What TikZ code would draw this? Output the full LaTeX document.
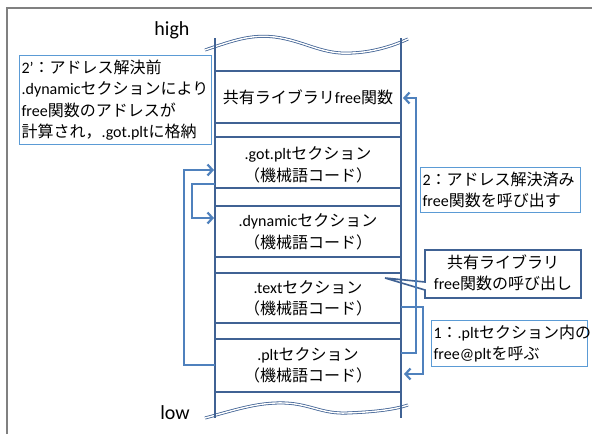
\documentclass[tikz,border=0pt]{standalone}
\usepackage{fontspec}
\setmainfont{Carlito}
\newfontfamily\jp{Noto Sans CJK JP}
\usetikzlibrary{arrows.meta}
\newcommand\J[1]{{\jp #1}}
\definecolor{colline}{RGB}{64,98,148}
\definecolor{colarrow}{RGB}{79,129,189}
\definecolor{colbox}{RGB}{91,155,213}
\definecolor{colframe}{RGB}{128,128,128}
\begin{document}
\begin{tikzpicture}[x=1pt,y=-1pt,
  txt/.style={font=\fontsize{16}{21.5}\selectfont, inner sep=0pt},
  sec/.style={txt, align=center},
  membar/.style={draw=colline, line width=2.2pt},
  wave/.style={draw=colline, line width=0.8pt, double=white, double distance=1.4pt},
  flow/.style={draw=colarrow, line width=2.2pt, -{Straight Barb[length=5pt,width=11pt]}},
  note/.style={txt, draw=colbox, line width=1.2pt, fill=white, align=left, inner sep=2pt, anchor=north west},
  endlabel/.style={font=\fontsize{20}{24}\selectfont, inner sep=0pt}
]
\useasboundingbox (0,0) rectangle (592,434);
\fill[white] (0,0) rectangle (592,434);
% frame
\draw[colframe, line width=1.5pt] (7,434) -- (7,8) -- (592,8);

% labels
\node[endlabel] (high) at (172,30) {high};
\node[endlabel] (low) at (175,413) {low};

% callout (behind column)
\coordinate (tip) at (385,278);
\draw[draw=colline, line width=1.6pt, fill=white, line join=miter]
  (425,250) -- (581,250) -- (581,298) -- (425,298) -- (425,290) -- (tip) -- (425,282) -- cycle;
\node[txt, align=center] (call) at (503,273) {\J{共有ライブラリ}\\free\J{関数の呼び出し}};

% waves
\draw[wave] (205,50) .. controls (232,41) and (250,34) .. (275,37)
  .. controls (305,41) and (322,55) .. (352,53)
  .. controls (375,52) and (395,45) .. (408,39);
\draw[wave] (205,418) .. controls (235,410) and (258,402) .. (285,403)
  .. controls (310,404) and (322,414) .. (347,413)
  .. controls (372,412) and (393,410) .. (408,405);

% memory column
\draw[membar] (215,38) -- (215,418);
\draw[membar] (401,38) -- (401,418);
\foreach \y in {71,123,137,188,206,257,273,323,339,392}
  \draw[membar] (215,\y) -- (401,\y);

% sections
\node[sec] (lib) at (308,97) {\J{共有ライブラリ}free\J{関数}};
\node[sec] (got) at (308,165) {.got.plt\J{セクション}\\\J{（機械語コード）}};
\node[sec] (dyn) at (308,232) {.dynamic\J{セクション}\\\J{（機械語コード）}};
\node[sec] (text) at (308,298.5) {.text\J{セクション}\\\J{（機械語コード）}};
\node[sec] (plt) at (308,365.5) {.plt\J{セクション}\\\J{（機械語コード）}};

% notes
\node[note, text width=188pt, minimum height=89pt] (n2p) at (19,55)
  {2’\J{：アドレス解決前}\\.dynamic\J{セクションにより}\\free\J{関数のアドレスが}\\\J{計算され，}.got.plt\J{に格納}};
\node[note, text width=156pt, minimum height=45pt] (n2) at (420,167)
  {2\J{：アドレス解決済み}\\free\J{関数を呼び出す}};
\node[note, text width=152pt, minimum height=46pt] (n1) at (431,320)
  {1\J{：}.plt\J{セクション内の}\\free@plt\J{を呼ぶ}};

% arrow anchors
\coordinate (pltL) at (215,365);
\coordinate (gotL) at (214,170);
\coordinate (gotB) at (215,184);
\coordinate (dynL) at (214,218);
\coordinate (pltR) at (401,353);
\coordinate (libR) at (403,98);
\coordinate (textR) at (401,307);
\coordinate (pltR2) at (404,374);

\draw[flow] (pltL) -- ++(-31,0) |- (gotL);
\draw[flow] (gotB) -- ++(-23,0) |- (dynL);
\draw[flow] (pltR) -- ++(15,0) |- (libR);
\draw[flow] (textR) -- ++(22,0) |- (pltR2);
\end{tikzpicture}
\end{document}
